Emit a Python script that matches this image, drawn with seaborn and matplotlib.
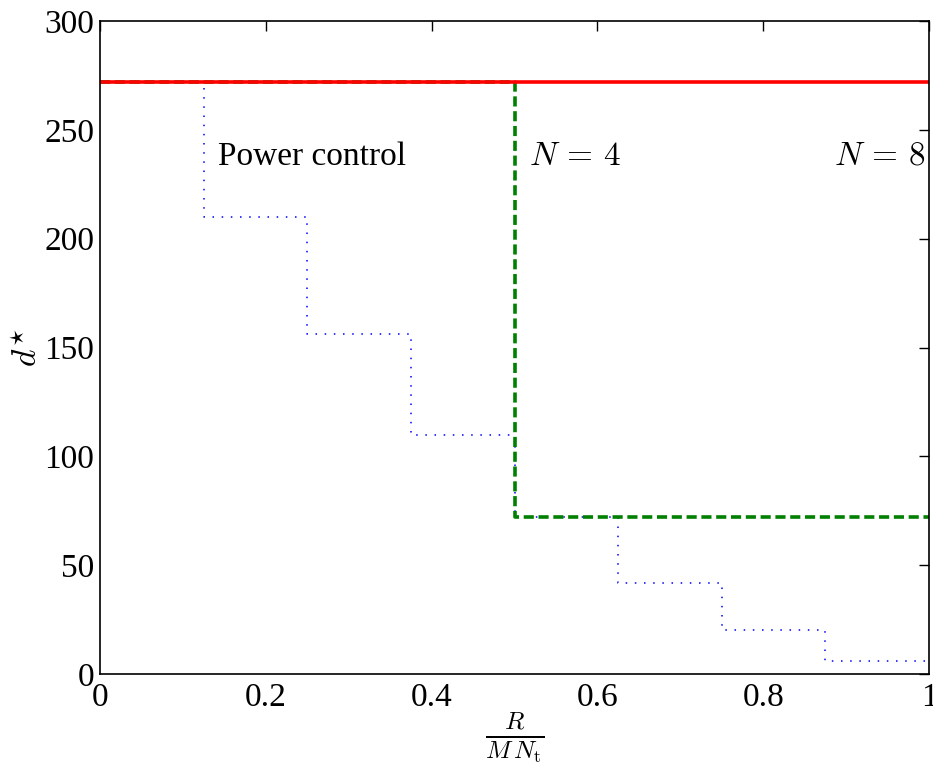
import matplotlib
matplotlib.use("Agg")
import matplotlib.pyplot as plt
import seaborn as sns
import pandas as pd
import numpy as np

x_edges = [0, 0.125, 0.25, 0.375, 0.5, 0.625, 0.75, 0.875, 1.0]
power_control = [272, 210, 156, 110, 72, 42, 20, 6, 6]
n4 = [272, 272, 272, 272, 72, 72, 72, 72, 72]
n8 = [272, 272, 272, 272, 272, 272, 272, 272, 272]

sns.set_theme(style="white")
plt.rcParams['font.family'] = ['Liberation Serif', 'DejaVu Serif']
plt.rcParams['mathtext.fontset'] = 'cm'
plt.rcParams['text.color'] = 'black'
plt.rcParams['axes.labelcolor'] = 'black'
plt.rcParams['xtick.color'] = 'black'
plt.rcParams['ytick.color'] = 'black'

fig = plt.figure(figsize=(9.33, 7.66), dpi=100)
ax = fig.add_axes([100/933, 1 - 674/766, 829/933, 653/766])

df = pd.DataFrame({"x": x_edges, "pc": power_control, "n4": n4, "n8": n8})
sns.lineplot(data=df, x="x", y="pc", ax=ax, color="blue", linestyle=(0, (1, 5)), linewidth=1.1, drawstyle="steps-post")
sns.lineplot(data=df, x="x", y="n4", ax=ax, color="#008000", linestyle=(0, (2.8, 1.3)), linewidth=2.6, drawstyle="steps-post")
sns.lineplot(data=df, x="x", y="n8", ax=ax, color="red", linestyle="-", linewidth=2.6, drawstyle="steps-post")

ax.set_xlim(0, 1)
ax.set_ylim(0, 300)
ax.set_xticks([0, 0.2, 0.4, 0.6, 0.8, 1])
ax.set_xticklabels(["0", "0.2", "0.4", "0.6", "0.8", "1"])
ax.set_yticks([0, 50, 100, 150, 200, 250, 300])
ax.tick_params(direction="in", top=True, right=True, length=7, width=1, labelsize=24, colors="black")
ax.tick_params(axis="x", pad=6)
ax.tick_params(axis="y", pad=4)
for s in ax.spines.values():
    s.set_color("black")
    s.set_linewidth(1.2)

ax.set_xlabel(r"$\frac{R}{M\,N_{\mathrm{t}}}$", fontsize=26, labelpad=-2, color="black")
ax.set_ylabel(r"$d^{\star}$", fontsize=24, labelpad=0, color="black")

ax.text(0.142, 234, "Power control", fontsize=24, ha="left", va="baseline", color="black")
ax.text(0.517, 234, r"$N\,=\,4$", fontsize=24, ha="left", va="baseline", color="black")
ax.text(0.995, 234, r"$N\,=\,8$", fontsize=24, ha="right", va="baseline", color="black")

fig.savefig("out.png", dpi=100)
